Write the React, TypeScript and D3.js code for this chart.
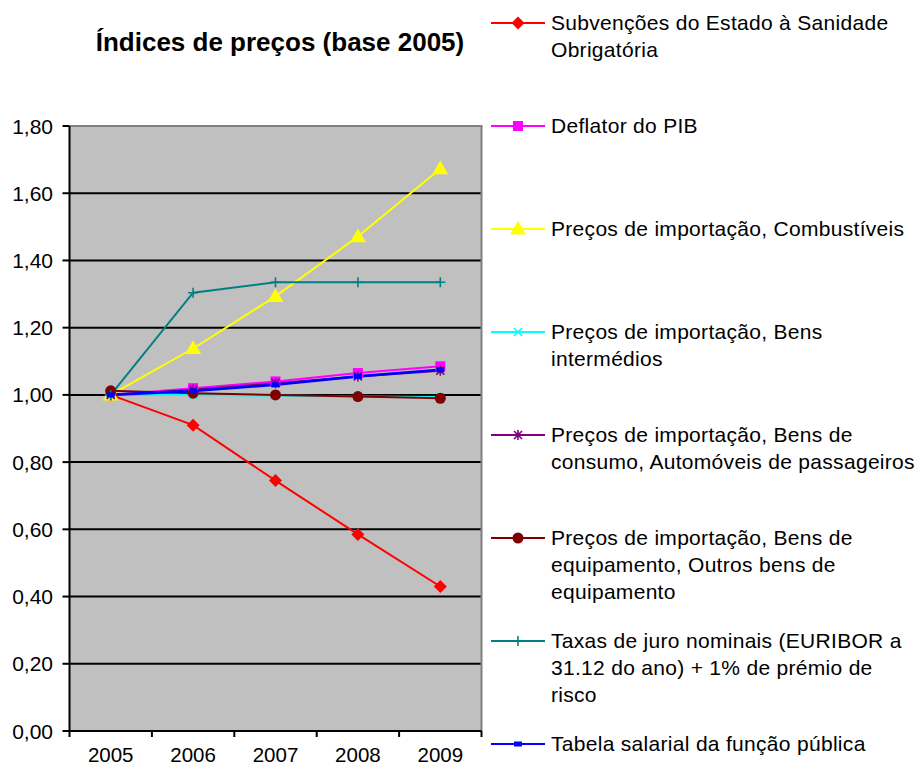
import React from "react";
import * as d3 from "d3";

const years = ["2005", "2006", "2007", "2008", "2009"];
const yTicks = [0, 0.2, 0.4, 0.6, 0.8, 1.0, 1.2, 1.4, 1.6, 1.8];

const subvencoes = [1.0, 0.91, 0.745, 0.585, 0.43];
const deflator = [1.0, 1.02, 1.04, 1.065, 1.085];
const combustiveis = [1.0, 1.138, 1.293, 1.471, 1.673];
const bensIntermedios = [1.0, 1.0, 0.998, 0.995, 0.994];
const automoveis = [1.0, 1.015, 1.035, 1.055, 1.072];
const equipamento = [1.012, 1.005, 1.0, 0.995, 0.99];
const taxasJuro = [1.0, 1.304, 1.335, 1.335, 1.335];
const tabelaSalarial = [1.0, 1.012, 1.03, 1.055, 1.075];

const seriesNames = [
  ["Subvenções do Estado à Sanidade", "Obrigatória"],
  ["Deflator do PIB"],
  ["Preços de importação, Combustíveis"],
  ["Preços de importação, Bens", "intermédios"],
  ["Preços de importação, Bens de", "consumo, Automóveis de passageiros"],
  ["Preços de importação, Bens de", "equipamento, Outros bens de", "equipamento"],
  ["Taxas de juro nominais (EURIBOR a", "31.12 do ano) + 1% de prémio de", "risco"],
  ["Tabela salarial da função pública"],
];
const seriesValues = [
  subvencoes,
  deflator,
  combustiveis,
  bensIntermedios,
  automoveis,
  equipamento,
  taxasJuro,
  tabelaSalarial,
];
const seriesColors = ["#FF0000", "#FF00FF", "#FFFF00", "#00FFFF", "#800080", "#800000", "#008080", "#0000FF"];
const seriesMarkers = ["diamond", "square", "triangle", "x", "star", "circle", "plus", "dash"];

const W = 922;
const H = 771;
const FONT = "'Liberation Sans', Arial, sans-serif";

function Marker({ kind, color, x, y }) {
  const t = `translate(${x},${y})`;
  if (kind === "diamond") {
    return <path transform={t} d="M0,-6.5L6.5,0L0,6.5L-6.5,0Z" fill={color} />;
  }
  if (kind === "square") {
    return <path transform={t} d={d3.symbol(d3.symbolSquare, 100)()} fill={color} />;
  }
  if (kind === "triangle") {
    return <path transform={`translate(${x},${y + 1})`} d={d3.symbol(d3.symbolTriangle, 110)()} fill={color} />;
  }
  if (kind === "circle") {
    return <path transform={t} d={d3.symbol(d3.symbolCircle, 95)()} fill={color} />;
  }
  if (kind === "x") {
    return <path transform={t} d="M-4,-4L4,4M-4,4L4,-4" stroke={color} strokeWidth={1.6} fill="none" />;
  }
  if (kind === "star") {
    return (
      <path transform={t} d="M-4,-4L4,4M-4,4L4,-4M0,-5L0,5" stroke={color} strokeWidth={1.6} fill="none" />
    );
  }
  if (kind === "plus") {
    return <path transform={t} d="M-5,0L5,0M0,-5L0,5" stroke={color} strokeWidth={1.6} fill="none" />;
  }
  return <rect x={x - 4} y={y - 2.5} width={8} height={5} fill={color} />;
}

export default function App() {
  const left = 69.5;
  const right = 481.5;
  const top = 126;
  const bottom = 731;

  const x = d3.scaleBand().domain(years).range([left, right]);
  const y = d3.scaleLinear().domain([0, 1.8]).range([bottom, top]);
  const cx = (yr) => x(yr) + x.bandwidth() / 2;

  const line = d3
    .line()
    .x((d, i) => cx(years[i]))
    .y((d) => y(d));

  const fmt = (v) => d3.format(".2f")(v).replace(".", ",");

  const legendX = 491;
  const legendStep = 103;
  const legendTop = 23;

  return (
    <svg
      width={W}
      height={H}
      style={{ position: "absolute", left: 0, top: 0, background: "#fff" }}
      fontFamily={FONT}
    >
      <text x={280} y={51} textAnchor="middle" fontSize={26} fontWeight="bold" fill="#000">
        Índices de preços (base 2005)
      </text>

      {/* plot area */}
      <rect x={left} y={top} width={right - left} height={bottom - top} fill="#C0C0C0" />
      {yTicks.slice(1, -1).map((t) => (
        <line key={t} x1={left} x2={right} y1={y(t)} y2={y(t)} stroke="#000" strokeWidth={2} />
      ))}
      <line x1={left} x2={right + 1} y1={top} y2={top} stroke="#808080" strokeWidth={2} />
      <line x1={right} x2={right} y1={top} y2={bottom} stroke="#808080" strokeWidth={2} />

      {/* y axis */}
      <line x1={left} x2={left} y1={top} y2={bottom} stroke="#000" strokeWidth={2} />
      {yTicks.map((t) => (
        <g key={t}>
          <line x1={left - 7} x2={left} y1={y(t)} y2={y(t)} stroke="#000" strokeWidth={2} />
          <text x={53} y={y(t)} dy="0.36em" textAnchor="end" fontSize={21} fill="#000">
            {fmt(t)}
          </text>
        </g>
      ))}

      {/* x axis */}
      <line x1={left} x2={right} y1={bottom} y2={bottom} stroke="#000" strokeWidth={2} />
      {years.map((yr) => (
        <line key={yr} x1={x(yr)} x2={x(yr)} y1={bottom} y2={bottom + 6} stroke="#000" strokeWidth={2} />
      ))}
      <line x1={right} x2={right} y1={bottom} y2={bottom + 6} stroke="#000" strokeWidth={2} />
      {years.map((yr) => (
        <text key={yr} x={cx(yr)} y={762} textAnchor="middle" fontSize={20.5} fill="#000">
          {yr}
        </text>
      ))}

      {/* series lines */}
      {seriesValues.map((vals, i) => (
        <path
          key={i}
          d={line(vals)}
          fill="none"
          stroke={seriesColors[i]}
          strokeWidth={i === 7 ? 2.6 : 2}
        />
      ))}
      {/* series markers */}
      {seriesValues.map((vals, i) => (
        <g key={i}>
          {vals.map((v, j) => (
            <Marker key={j} kind={seriesMarkers[i]} color={seriesColors[i]} x={cx(years[j])} y={y(v)} />
          ))}
        </g>
      ))}

      {/* legend */}
      {seriesNames.map((lines, i) => {
        const my = legendTop + i * legendStep;
        return (
          <g key={i}>
            <line x1={legendX} x2={legendX + 54} y1={my} y2={my} stroke={seriesColors[i]} strokeWidth={2} />
            <Marker kind={seriesMarkers[i]} color={seriesColors[i]} x={legendX + 27} y={my} />
            {lines.map((s, k) => (
              <text key={k} x={551} y={my + 7 + k * 27} fontSize={21} letterSpacing={0.3} fill="#000">
                {s}
              </text>
            ))}
          </g>
        );
      })}
    </svg>
  );
}
